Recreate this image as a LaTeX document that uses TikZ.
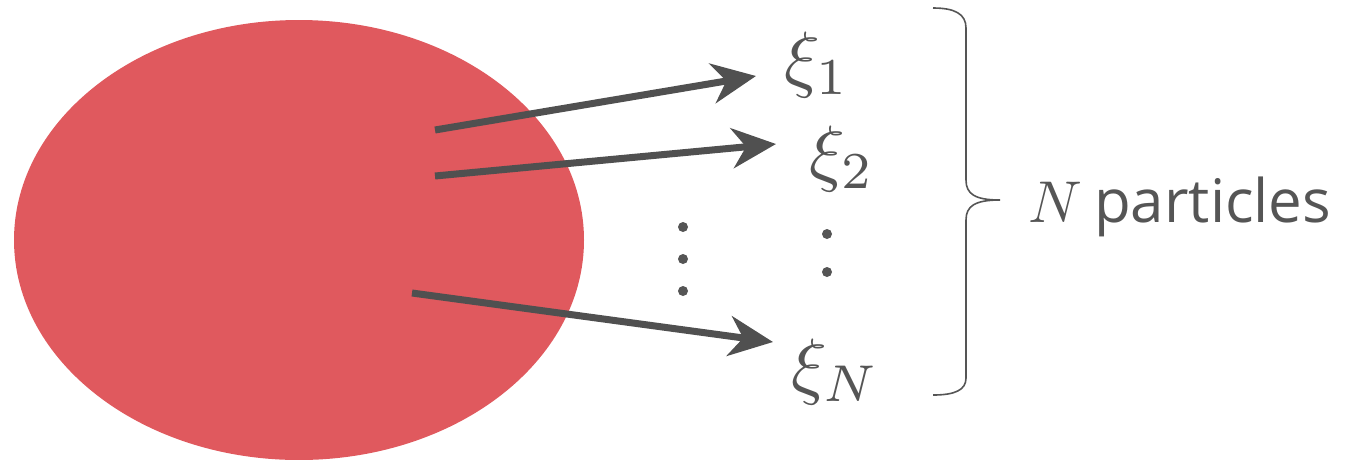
\documentclass[tikz,border=0pt]{standalone}
\usepackage{graphicx}
\usepackage{fontspec}
\setmainfont{Open Sans}
\usetikzlibrary{arrows.meta}
\definecolor{blob}{RGB}{224,89,94}
\definecolor{arr}{RGB}{80,80,80}
\definecolor{txt}{RGB}{85,85,85}
\tikzset{
  conn/.style={draw=arr, line width=7pt, -{Stealth[length=44pt,width=40pt,inset=14pt]}},
  lbl/.style={text=txt, inner sep=0pt},
  dotm/.style={fill=txt, circle, inner sep=0pt, minimum size=10pt},
}
\newcommand{\hugemath}[1]{\scalebox{7.4}{$#1$}}
\begin{document}
\begin{tikzpicture}[x=1pt,y=-1pt]
\useasboundingbox (0,0) rectangle (1357,459);
\fill[blob] (299,240) ellipse [x radius=285, y radius=220];
\node[inner sep=0pt] (blob) at (299,240) {};
% labels
\node[lbl, anchor=base west] (x1) at (784,83) {\hugemath{\xi_1}};
\node[lbl, anchor=base west] (x2) at (809,177) {\hugemath{\xi_2}};
\node[lbl, anchor=base west] (xN) at (791,390) {\hugemath{\xi_N}};
% arrows
\coordinate (s1) at (435,130); \coordinate (t1) at (756,76);
\coordinate (s2) at (435,176); \coordinate (t2) at (776,144);
\coordinate (s3) at (412,293); \coordinate (t3) at (773,342);
\draw[conn] (s1) -- (t1);
\draw[conn] (s2) -- (t2);
\draw[conn] (s3) -- (t3);
% dots
\node[dotm] (d1) at (683,227) {};
\node[dotm] (d2) at (683,259) {};
\node[dotm] (d3) at (683,291) {};
\node[dotm] (d4) at (827,234) {};
\node[dotm] (d5) at (827,272) {};
% brace
\coordinate (btop) at (933,8);
\coordinate (btip) at (1000,200);
\coordinate (bbot) at (933,395);
\draw[draw=txt, line width=1.6pt]
  (btop) .. controls (955,8) and (966,14) .. (966,28)
  -- (966,180) .. controls (966,194) and (975,200) .. (btip)
  .. controls (975,200) and (966,206) .. (966,220)
  -- (966,378) .. controls (966,390) and (955,395) .. (bbot);
\node[lbl, anchor=base west] (nN) at (1028,222) {\scalebox{5.9}{$N$}};
\node[lbl, anchor=base west, font=\fontsize{60}{68}\selectfont] (np) at (1094,222) {particles};
\end{tikzpicture}
\end{document}
